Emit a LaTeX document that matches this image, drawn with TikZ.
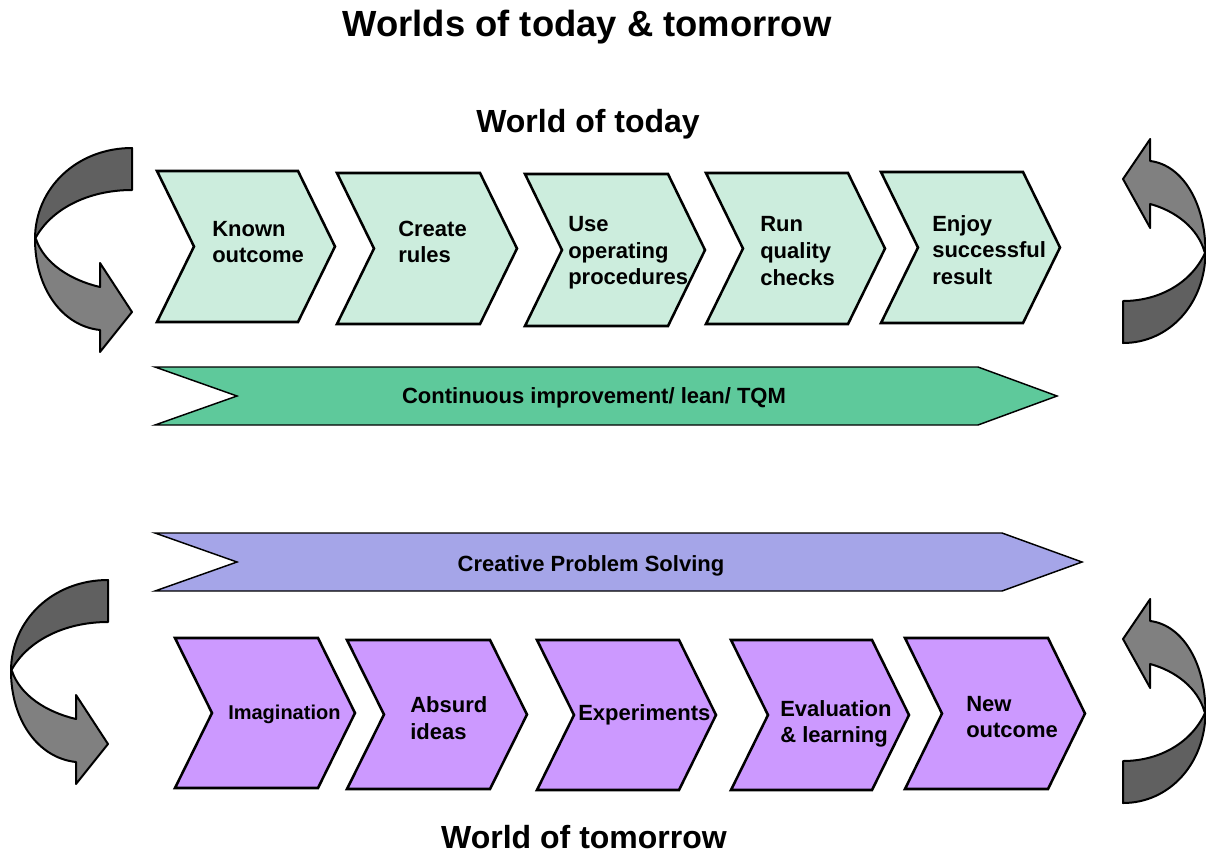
\documentclass[tikz,border=0pt]{standalone}
\usepackage{fontspec}
\setmainfont{Liberation Sans}
\definecolor{mintfill}{RGB}{204,237,221}
\definecolor{greenbar}{RGB}{94,201,155}
\definecolor{bluebar}{RGB}{165,165,232}
\definecolor{violetfill}{RGB}{204,153,255}
\definecolor{twistdark}{RGB}{96,96,96}
\definecolor{twistlight}{RGB}{128,128,128}

% chevron: left x, tip x, top y, bottom y, style
\newcommand\chevronpath[5]{%
  \path[#5] (#1,#3) -- ({#2-37},#3) -- (#2,{(#3+#4)/2}) -- ({#2-37},#4)
    -- (#1,#4) -- ({#1+37},{(#3+#4)/2}) -- cycle;}

\tikzset{
  stepmint/.style={fill=mintfill, draw=black, line width=1.9pt, line join=miter},
  stepviolet/.style={fill=violetfill, draw=black, line width=1.9pt, line join=miter},
  bandbar/.style={draw=black, line width=1.1pt, line join=miter},
  steptext/.style={anchor=west, align=left, inner sep=0pt,
    font=\bfseries\fontsize{16.5}{20}\selectfont},
  bartext/.style={inner sep=0pt, font=\bfseries\fontsize{16.5}{20}\selectfont},
  headline/.style={inner sep=0pt, font=\bfseries\fontsize{24}{28}\selectfont},
  twist/.style={draw=black, line width=1.5pt, line join=round},
  pics/curvedarrow/.style={code={
    % lighter front band with the arrow head
    \path[twist, fill=twistlight] (-97,91) .. controls (-97,140) and (-70,178) .. (-32,182)
      -- (-32,204) -- (0,164) -- (-32,115) -- (-32,139)
      .. controls (-62,132) and (-88,115) .. (-96,91) -- cycle;
    % darker back band
    \path[twist, fill=twistdark] (0,0) .. controls (-55,0) and (-97,40) .. (-97,91)
      .. controls (-82,62) and (-45,42) .. (0,42) -- cycle;
  }}
}

\begin{document}
\begin{tikzpicture}[x=0.75pt,y=-0.75pt]
\useasboundingbox (0,0) rectangle (1206,854);

% titles
\node[inner sep=0pt, font=\bfseries\fontsize{27.3}{32}\selectfont] (title) at (587,27) {Worlds of today \& tomorrow};
\node[headline] (today) at (588,124) {World of today};
\node[headline] (tomorrow) at (584,837) {World of tomorrow};

% world of today: steps
\chevronpath{157}{335}{171}{322}{stepmint}
\chevronpath{337}{517}{173}{324}{stepmint}
\chevronpath{525}{705}{174}{326}{stepmint}
\chevronpath{706}{885}{173}{324}{stepmint}
\chevronpath{881}{1060}{172}{323}{stepmint}
\node[steptext] (t1) at (212,242) {Known\\outcome};
\node[steptext] (t2) at (398,242) {Create\\rules};
\node[steptext] (t3) at (568,253) {Use\\operating\\procedures};
\node[steptext] (t4) at (760,251) {Run\\quality\\checks};
\node[steptext] (t5) at (932,250) {Enjoy\\successful\\result};

% continuous improvement band
\path[bandbar, fill=greenbar] (155,367) -- (978,367) -- (1057,396) -- (978,425)
  -- (155,425) -- (237,396) -- cycle;
\node[bartext] (ci) at (594,398) {Continuous improvement/ lean/ TQM};

% creative problem solving band
\path[bandbar, fill=bluebar] (155,533) -- (1002,533) -- (1082,562) -- (1002,591)
  -- (155,591) -- (237,562) -- cycle;
\node[bartext] (cps) at (591,566) {Creative Problem Solving};

% world of tomorrow: steps
\chevronpath{175}{355}{638}{788}{stepviolet}
\chevronpath{347}{527}{640}{789}{stepviolet}
\chevronpath{537}{716}{640}{790}{stepviolet}
\chevronpath{731}{909}{640}{790}{stepviolet}
\chevronpath{905}{1085}{638}{789}{stepviolet}
\node[steptext, font=\bfseries\fontsize{15}{19}\selectfont] (b1) at (228,714) {Imagination};
\node[steptext] (b2) at (410,718) {Absurd\\ideas};
\node[steptext] (b3) at (578,715) {Experiments};
\node[steptext] (b4) at (780,724) {Evaluation\\\& learning};
\node[steptext] (b5) at (966,717) {New\\outcome};

% cycle arrows
\pic[shift={(132,148)}] {curvedarrow};
\pic[shift={(108,580)}] {curvedarrow};
\pic[shift={(1123,343)}, rotate=180, xscale=0.85] {curvedarrow};
\pic[shift={(1123,803)}, rotate=180, xscale=0.85] {curvedarrow};
\end{tikzpicture}
\end{document}
